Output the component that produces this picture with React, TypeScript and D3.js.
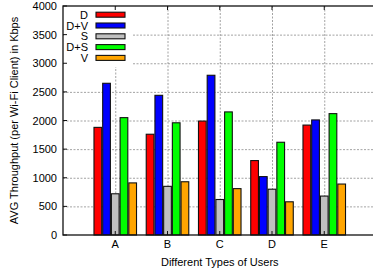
import React, { useEffect, useRef } from "react";
import * as d3 from "d3";

const categories = ["A", "B", "C", "D", "E"];
const seriesNames = ["D", "D+V", "S", "D+S", "V"];
const seriesColors = ["#ff0000", "#0000ff", "#c0c0c0", "#00ff00", "#ffa500"];
// values per series, one per category A..E
const valuesD = [1880, 1760, 1990, 1300, 1920];
const valuesDV = [2650, 2440, 2790, 1020, 2010];
const valuesS = [720, 850, 620, 800, 680];
const valuesDS = [2050, 1960, 2150, 1620, 2120];
const valuesV = [910, 930, 810, 580, 890];
const yTicks = [0, 500, 1000, 1500, 2000, 2500, 3000, 3500, 4000];

const W = 373;
const H = 275;

export default function App() {
  const ref = useRef<SVGSVGElement>(null);

  useEffect(() => {
    const series = [valuesD, valuesDV, valuesS, valuesDS, valuesV];
    const svg = d3.select(ref.current);
    svg.selectAll("*").remove();

    const left = 63, right = 376.5, top = 6, bottom = 235;
    const x = d3.scaleLinear().domain([-1, 5]).range([left, right]);
    const y = d3.scaleLinear().domain([0, 4000]).range([bottom, top]);
    const font = "'Liberation Sans', Arial, sans-serif";
    const unit = x(1) - x(0);
    const barW = unit / 6;

    svg.append("rect").attr("width", W).attr("height", H).attr("fill", "#fff");

    // grid
    const grid = svg.append("g").attr("stroke", "#8c8c8c").attr("stroke-width", 0.8)
      .attr("stroke-dasharray", "2,1.5");
    grid.selectAll("line.h").data(yTicks.slice(1, -1)).enter().append("line")
      .attr("x1", left).attr("x2", right)
      .attr("y1", d => y(d) + 0.5).attr("y2", d => y(d) + 0.5);
    grid.selectAll("line.v").data(categories).enter().append("line")
      .attr("x1", (d, i) => x(i) + 0.5).attr("x2", (d, i) => x(i) + 0.5)
      .attr("y1", top).attr("y2", bottom);

    // legend background
    svg.append("rect").attr("x", left + 1).attr("y", top + 1)
      .attr("width", 131 - left).attr("height", 60).attr("fill", "#fff");

    // bars
    series.forEach((vals, j) => {
      svg.append("g").selectAll("rect").data(vals).enter().append("rect")
        .attr("x", (d, i) => x(i + (j - 2) / 6) - barW / 2 + 0.5)
        .attr("y", d => y(d))
        .attr("width", barW - 1)
        .attr("height", d => y(0) - y(d))
        .attr("fill", seriesColors[j])
        .attr("stroke", "#111")
        .attr("stroke-width", 1.1);
    });

    // border
    svg.append("rect").attr("x", left).attr("y", top)
      .attr("width", right - left).attr("height", bottom - top)
      .attr("fill", "none").attr("stroke", "#111").attr("stroke-width", 1.3);

    // ticks
    const ticks = svg.append("g").attr("stroke", "#111").attr("stroke-width", 1);
    ticks.selectAll("line.yl").data(yTicks).enter().append("line")
      .attr("x1", left).attr("x2", left + 4).attr("y1", d => y(d)).attr("y2", d => y(d));
    ticks.selectAll("line.xb").data(categories).enter().append("line")
      .attr("x1", (d, i) => x(i)).attr("x2", (d, i) => x(i))
      .attr("y1", bottom).attr("y2", bottom - 4);
    ticks.selectAll("line.xt").data(categories).enter().append("line")
      .attr("x1", (d, i) => x(i)).attr("x2", (d, i) => x(i))
      .attr("y1", top).attr("y2", top + 4);

    // y tick labels
    svg.append("g").selectAll("text").data(yTicks).enter().append("text")
      .attr("x", 57).attr("y", d => y(d) + 4)
      .attr("text-anchor", "end").attr("font-family", font).attr("font-size", 11)
      .text(d => d);

    // x tick labels
    svg.append("g").selectAll("text").data(categories).enter().append("text")
      .attr("x", (d, i) => x(i)).attr("y", 248)
      .attr("text-anchor", "middle").attr("font-family", font).attr("font-size", 11)
      .text(d => d);

    // axis titles
    svg.append("text").attr("x", (left + right) / 2).attr("y", 266)
      .attr("text-anchor", "middle").attr("font-family", font).attr("font-size", 11)
      .text("Different Types of Users");
    svg.append("text")
      .attr("transform", `translate(18,${(top + bottom) / 2}) rotate(-90)`)
      .attr("text-anchor", "middle").attr("font-family", font).attr("font-size", 11)
      .text("AVG Throughput (per Wi-Fi Client) in Kbps");

    // legend
    const leg = svg.append("g").selectAll("g").data(seriesNames).enter().append("g")
      .attr("transform", (d, i) => `translate(0,${14.7 + i * 10.8})`);
    leg.append("text").attr("x", 88).attr("y", 4)
      .attr("text-anchor", "end").attr("font-family", font).attr("font-size", 11)
      .text(d => d);
    leg.append("rect").attr("x", 96).attr("y", -2.5).attr("width", 29).attr("height", 5)
      .attr("fill", (d, i) => seriesColors[i]).attr("stroke", "#111").attr("stroke-width", 1.1);
  }, []);

  return (
    <svg ref={ref} width={W} height={H} style={{ position: "absolute", left: 0, top: 0 }} />
  );
}
